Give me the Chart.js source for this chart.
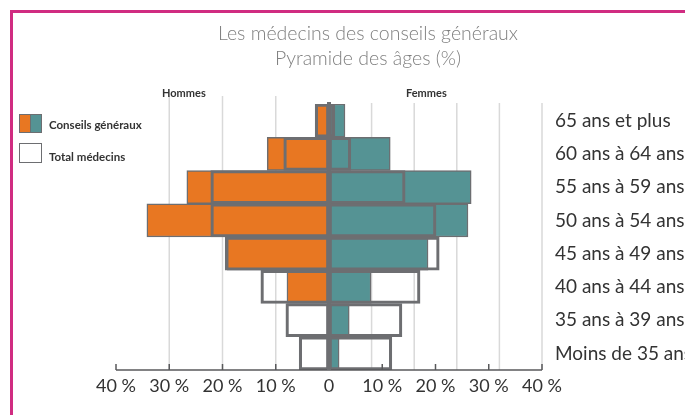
<!DOCTYPE html>
<html><head><meta charset="utf-8">
<script src="https://cdn.jsdelivr.net/npm/chart.js@4.4.1/dist/chart.umd.min.js"></script>
<style>
html,body{margin:0;padding:0;background:#fff;overflow:hidden;}
#wrap{position:relative;width:685px;height:415px;overflow:hidden;font-family:Lato,"Open Sans",sans-serif;}
#frame{position:absolute;left:10px;top:10px;width:700px;height:420px;border:3px solid #d02c81;box-sizing:border-box;}
canvas{position:absolute;left:0;top:0;}
.title{position:absolute;left:0;width:736px;text-align:center;color:#7f7f7f;font-size:19.5px;font-weight:300;line-height:24px;}
.side{position:absolute;font-size:11px;font-weight:700;color:#333;line-height:12px;}
.leg{position:absolute;font-size:11.5px;font-weight:700;color:#333;line-height:14px;}
.sw{position:absolute;box-sizing:border-box;border:1px solid #6d6e71;}
</style>
</head><body>
<div id="wrap">
  <canvas id="c" width="685" height="415"></canvas>
  <div id="frame"></div>
  <div class="title" style="top:21px">Les médecins des conseils généraux</div>
  <div class="title" style="top:46px">Pyramide des âges (%)</div>
  <div class="side" style="left:162px;top:87px">Hommes</div>
  <div class="side" style="left:406px;top:87px">Femmes</div>
  <div class="sw" style="left:19px;top:114px;width:12px;height:19px;background:#e87722;border-right:none"></div>
  <div class="sw" style="left:30px;top:114px;width:12px;height:19px;background:#559394;border-left:1px solid #6d6e71"></div>
  <div class="leg" style="left:49px;top:118px">Conseils généraux</div>
  <div class="sw" style="left:19px;top:143px;width:23px;height:20px;background:#fff"></div>
  <div class="leg" style="left:49px;top:150px">Total médecins</div>
</div>
<script>
const ages = ["65 ans et plus","60 ans à 64 ans","55 ans à 59 ans","50 ans à 54 ans","45 ans à 49 ans","40 ans à 44 ans","35 ans à 39 ans","Moins de 35 ans"];
const hommesCG = [2.3, 11.6, 26.7, 34.2, 19.1, 7.9, 0, 0];
const femmesCG = [3.0, 11.5, 26.7, 26.1, 18.6, 7.9, 3.8, 1.9];
const hommesTotal = [2.6, 8.5, 22.2, 22.2, 19.5, 12.8, 8.1, 5.6];
const femmesTotal = [1.1, 4.1, 14.3, 20.1, 20.7, 17.1, 13.7, 11.8];
const tickValues = [-40, -30, -20, -10, 0, 10, 20, 30, 40];
const tickLabels = ["40 %", "30 %", "20 %", "10 %", "0", "10 %", "20 %", "30 %", "40 %"];
const gridLeft = [-30, -20, -10];
const gridRight = [8, 16, 24, 32, 40];

const ORANGE = '#e87722', TEAL = '#559394', GREY = '#6d6e71';

const decor = {
  id: 'decor',
  beforeDatasetsDraw(chart) {
    const {ctx, chartArea: a, scales: {x}} = chart;
    ctx.save();
    ctx.strokeStyle = '#d9d9d9';
    ctx.lineWidth = 1.5;
    const line = (v, top) => {
      const px = x.getPixelForValue(v);
      ctx.beginPath(); ctx.moveTo(px, top); ctx.lineTo(px, a.bottom); ctx.stroke();
    };
    gridLeft.forEach(v => line(v, a.top - 8));
    gridRight.forEach(v => line(v, a.top - 1));
    ctx.restore();
  },
  afterDatasetsDraw(chart) {
    const {ctx, chartArea: a, scales: {x}} = chart;
    ctx.save();
    ctx.strokeStyle = '#58595b';
    ctx.lineWidth = 1.5;
    ctx.beginPath();
    ctx.moveTo(x.getPixelForValue(tickValues[0]), a.bottom);
    ctx.lineTo(x.getPixelForValue(tickValues[tickValues.length - 1]), a.bottom);
    ctx.stroke();
    tickValues.forEach(v => {
      const px = x.getPixelForValue(v);
      ctx.beginPath(); ctx.moveTo(px, a.bottom); ctx.lineTo(px, a.bottom - 6); ctx.stroke();
    });
    ctx.strokeStyle = GREY;
    ctx.lineWidth = 4;
    const z = x.getPixelForValue(0);
    ctx.beginPath(); ctx.moveTo(z, a.top - 2); ctx.lineTo(z, a.bottom); ctx.stroke();
    ctx.restore();
  }
};

const common = {grouped: false, barPercentage: 1, categoryPercentage: 1, borderSkipped: false};

new Chart(document.getElementById('c'), {
  type: 'bar',
  data: {
    labels: ages,
    datasets: [
      Object.assign({label: 'Total médecins H', data: hommesTotal.map(v => -v), backgroundColor: 'rgba(0,0,0,0)', borderColor: GREY, borderWidth: 2.5, order: 0}, common),
      Object.assign({label: 'Total médecins F', data: femmesTotal, backgroundColor: 'rgba(0,0,0,0)', borderColor: GREY, borderWidth: 2.5, order: 0}, common),
      Object.assign({label: 'Conseils généraux H', data: hommesCG.map(v => -v), backgroundColor: ORANGE, borderColor: GREY, borderWidth: 1.5, order: 1}, common),
      Object.assign({label: 'Conseils généraux F', data: femmesCG, backgroundColor: TEAL, borderColor: GREY, borderWidth: 1.5, order: 1}, common)
    ]
  },
  options: {
    indexAxis: 'y',
    responsive: false,
    animation: false,
    devicePixelRatio: 1,
    layout: {padding: {left: 116, top: 104, right: 0, bottom: 0}},
    plugins: {legend: {display: false}, tooltip: {enabled: false}, title: {display: false}},
    scales: {
      x: {
        min: -40, max: 40,
        grid: {display: false, drawTicks: false},
        border: {display: false},
        afterBuildTicks: s => { s.ticks = tickValues.map(v => ({value: v})); },
        afterFit: s => { s.height = 45; },
        ticks: {
          autoSkip: false, maxRotation: 0, padding: 5,
          color: '#333', font: {family: 'Lato', size: 18},
          callback: (v, i) => tickLabels[i]
        }
      },
      y: {
        position: 'right',
        grid: {display: false, drawTicks: false},
        border: {display: false},
        afterFit: s => { s.width = 143; },
        ticks: {padding: 13, color: '#333', font: {family: 'Lato', size: 19}}
      }
    }
  },
  plugins: [decor]
});
</script>
</body></html>
